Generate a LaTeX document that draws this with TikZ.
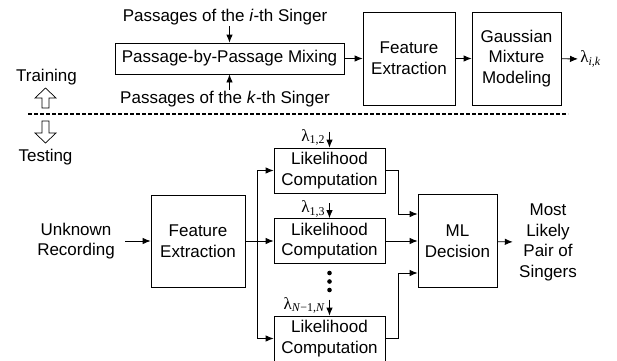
\documentclass[tikz,border=0pt]{standalone}
\usepackage{fontspec}
\setmainfont{Liberation Sans}
\newfontfamily\lamfont{Liberation Serif}
\usetikzlibrary{arrows.meta}
\newcommand{\lam}[1]{{\lamfont λ\textsubscript{#1}}}

\begin{document}
\begin{tikzpicture}[x=1pt,y=-1pt,>={Latex[length=8pt,width=6.5pt]},line width=0.8pt,
	font=\fontsize{17}{20.7}\selectfont,
	blk/.style={draw,align=center,inner sep=0pt},
	txt/.style={align=center,inner sep=1pt},
	hollow/.style={line width=0.7pt,line join=miter}]
	\useasboundingbox (0,0) rectangle (617,360);

	\node[txt] (singi) at (225,17) {Passages of the \textit{i}-th Singer};
	\node[blk,minimum width=229,minimum height=31] (mix) at (229.5,58.5) {Passage-by-Passage Mixing};
	\node[txt] (singk) at (225,99) {Passages of the \textit{k}-th Singer};
	\node[blk,minimum width=92,minimum height=93] (fe1) at (409,58.5) {Feature\\Extraction};
	\node[blk,minimum width=89,minimum height=93] (gmm) at (516.5,58.5) {Gaussian\\Mixture\\Modeling};
	\node[anchor=west,inner sep=2pt] (lamik) at (578,59) {\lam{\textit{i},\textit{k}}};
	\draw[->] (singi.south -| mix.north) -- (mix.north);
	\draw[->] (singk.north -| mix.south) -- (mix.south);
	\draw[->] (mix) -- (fe1);
	\draw[->] (fe1) -- (gmm);
	\draw[->] (gmm) -- (lamik);

	\node[txt] (train) at (46.5,77) {Training};
	\node[txt] (test) at (45.5,157) {Testing};
	\draw[hollow] (45.5,88) -- (56,98) -- (49,98) -- (49,108) -- (42,108) -- (42,98) -- (35,98) -- cycle;
	\draw[hollow] (42,121) -- (49,121) -- (49,133) -- (56,133) -- (45.5,143) -- (35,133) -- (42,133) -- cycle;
	\draw[line width=1.8pt,dash pattern=on 4pt off 2pt] (28,114) -- (568,114);

	\node[txt] (unk) at (76,241) {Unknown\\Recording};
	\node[blk,minimum width=94,minimum height=92] (fe2) at (198,241) {Feature\\Extraction};
	\node[blk,minimum width=111,minimum height=45] (lc1) at (329.5,170.5) {Likelihood\\Computation};
	\node[blk,minimum width=111,minimum height=45] (lc2) at (329.5,241) {Likelihood\\Computation};
	\node[blk,minimum width=111,minimum height=45] (lc3) at (329.5,338.5) {Likelihood\\Computation};
	\node[blk,minimum width=79,minimum height=93] (ml) at (457.5,241) {ML\\Decision};
	\node[txt,inner xsep=6pt] (out) at (548,242.5) {Most\\Likely\\Pair of\\Singers};
	\coordinate (br) at (257,241);

	\draw[->,shorten <=9pt] (unk) -- (fe2);
	\draw (fe2) -- (br);
	\draw[->] (br) -- (lc2);
	\draw[->] (br) |- (lc1);
	\draw[->] (br) |- (lc3);
	\draw[->] (lc1.east) -- ++(13,0) |- ([yshift=27pt]ml.west);
	\draw[->] (lc2) -- (ml);
	\draw[->] (lc3.east) -- ++(13,0) |- ([yshift=-32pt]ml.west);
	\draw[->] (ml) -- (out);

	\coordinate (t12) at ([yshift=16pt]lc1.north);
	\coordinate (t13) at ([yshift=15pt]lc2.north);
	\coordinate (tN) at ([yshift=16pt]lc3.north);
	\node[anchor=east,inner sep=1pt] (lam12) at ([xshift=-3pt,yshift=-6pt]t12) {\lam{1,2}};
	\node[anchor=east,inner sep=1pt] (lam13) at ([xshift=-3pt,yshift=-6pt]t13) {\lam{1,3}};
	\node[anchor=east,inner sep=1pt] (lamN) at ([xshift=-3pt,yshift=-6pt]tN) {\lam{\textit{N}−1,\textit{N}}};
	\draw[->] (t12) -- (lc1.north);
	\draw[->] (t13) -- (lc2.north);
	\draw[->] (tN) -- (lc3.north);
	\foreach \y in {273,281.5,290} \fill (329.5,\y) circle (2.3);
\end{tikzpicture}
\end{document}
